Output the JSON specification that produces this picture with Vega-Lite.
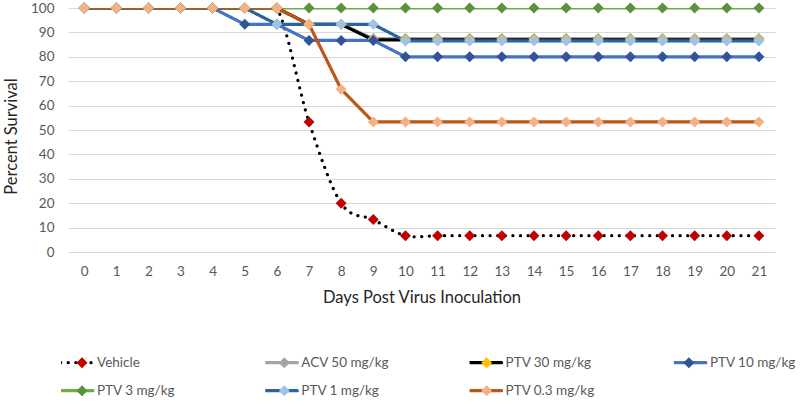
{
  "$schema": "https://vega.github.io/schema/vega-lite/v6.json",
  "autosize": {"type": "none"},
  "width": 707,
  "height": 244,
  "padding": {"left": 68, "top": 8, "right": 25, "bottom": 155},
  "background": "white",
  "config": {
    "view": {"stroke": null},
    "font": "Lato",
    "axis": {"labelFont": "Lato", "titleFont": "Lato", "labelColor": "#595959", "titleColor": "#262626", "titleFontWeight": "normal", "labelFontSize": 13.5, "titleFontSize": 16.5}
  },
  "data": {"values": [
    {"series":"Vehicle","day":0,"pct":100},{"series":"Vehicle","day":1,"pct":100},{"series":"Vehicle","day":2,"pct":100},{"series":"Vehicle","day":3,"pct":100},{"series":"Vehicle","day":4,"pct":100},{"series":"Vehicle","day":5,"pct":100},{"series":"Vehicle","day":6,"pct":100},{"series":"Vehicle","day":7,"pct":53.3},{"series":"Vehicle","day":8,"pct":20},{"series":"Vehicle","day":9,"pct":13.3},{"series":"Vehicle","day":10,"pct":6.7},{"series":"Vehicle","day":11,"pct":6.7},{"series":"Vehicle","day":12,"pct":6.7},{"series":"Vehicle","day":13,"pct":6.7},{"series":"Vehicle","day":14,"pct":6.7},{"series":"Vehicle","day":15,"pct":6.7},{"series":"Vehicle","day":16,"pct":6.7},{"series":"Vehicle","day":17,"pct":6.7},{"series":"Vehicle","day":18,"pct":6.7},{"series":"Vehicle","day":19,"pct":6.7},{"series":"Vehicle","day":20,"pct":6.7},{"series":"Vehicle","day":21,"pct":6.7},
    {"series":"ACV 50 mg/kg","day":0,"pct":100},{"series":"ACV 50 mg/kg","day":1,"pct":100},{"series":"ACV 50 mg/kg","day":2,"pct":100},{"series":"ACV 50 mg/kg","day":3,"pct":100},{"series":"ACV 50 mg/kg","day":4,"pct":100},{"series":"ACV 50 mg/kg","day":5,"pct":100},{"series":"ACV 50 mg/kg","day":6,"pct":100},{"series":"ACV 50 mg/kg","day":7,"pct":93.3},{"series":"ACV 50 mg/kg","day":8,"pct":93.3},{"series":"ACV 50 mg/kg","day":9,"pct":87.5},{"series":"ACV 50 mg/kg","day":10,"pct":87.5},{"series":"ACV 50 mg/kg","day":11,"pct":87.5},{"series":"ACV 50 mg/kg","day":12,"pct":87.5},{"series":"ACV 50 mg/kg","day":13,"pct":87.5},{"series":"ACV 50 mg/kg","day":14,"pct":87.5},{"series":"ACV 50 mg/kg","day":15,"pct":87.5},{"series":"ACV 50 mg/kg","day":16,"pct":87.5},{"series":"ACV 50 mg/kg","day":17,"pct":87.5},{"series":"ACV 50 mg/kg","day":18,"pct":87.5},{"series":"ACV 50 mg/kg","day":19,"pct":87.5},{"series":"ACV 50 mg/kg","day":20,"pct":87.5},{"series":"ACV 50 mg/kg","day":21,"pct":87.5},
    {"series":"PTV 30 mg/kg","day":0,"pct":100},{"series":"PTV 30 mg/kg","day":1,"pct":100},{"series":"PTV 30 mg/kg","day":2,"pct":100},{"series":"PTV 30 mg/kg","day":3,"pct":100},{"series":"PTV 30 mg/kg","day":4,"pct":100},{"series":"PTV 30 mg/kg","day":5,"pct":100},{"series":"PTV 30 mg/kg","day":6,"pct":100},{"series":"PTV 30 mg/kg","day":7,"pct":93.3},{"series":"PTV 30 mg/kg","day":8,"pct":93.3},{"series":"PTV 30 mg/kg","day":9,"pct":86.9},{"series":"PTV 30 mg/kg","day":10,"pct":86.9},{"series":"PTV 30 mg/kg","day":11,"pct":86.9},{"series":"PTV 30 mg/kg","day":12,"pct":86.9},{"series":"PTV 30 mg/kg","day":13,"pct":86.9},{"series":"PTV 30 mg/kg","day":14,"pct":86.9},{"series":"PTV 30 mg/kg","day":15,"pct":86.9},{"series":"PTV 30 mg/kg","day":16,"pct":86.9},{"series":"PTV 30 mg/kg","day":17,"pct":86.9},{"series":"PTV 30 mg/kg","day":18,"pct":86.9},{"series":"PTV 30 mg/kg","day":19,"pct":86.9},{"series":"PTV 30 mg/kg","day":20,"pct":86.9},{"series":"PTV 30 mg/kg","day":21,"pct":86.9},
    {"series":"PTV 10 mg/kg","day":0,"pct":100},{"series":"PTV 10 mg/kg","day":1,"pct":100},{"series":"PTV 10 mg/kg","day":2,"pct":100},{"series":"PTV 10 mg/kg","day":3,"pct":100},{"series":"PTV 10 mg/kg","day":4,"pct":100},{"series":"PTV 10 mg/kg","day":5,"pct":93.3},{"series":"PTV 10 mg/kg","day":6,"pct":93.3},{"series":"PTV 10 mg/kg","day":7,"pct":86.7},{"series":"PTV 10 mg/kg","day":8,"pct":86.7},{"series":"PTV 10 mg/kg","day":9,"pct":86.7},{"series":"PTV 10 mg/kg","day":10,"pct":80},{"series":"PTV 10 mg/kg","day":11,"pct":80},{"series":"PTV 10 mg/kg","day":12,"pct":80},{"series":"PTV 10 mg/kg","day":13,"pct":80},{"series":"PTV 10 mg/kg","day":14,"pct":80},{"series":"PTV 10 mg/kg","day":15,"pct":80},{"series":"PTV 10 mg/kg","day":16,"pct":80},{"series":"PTV 10 mg/kg","day":17,"pct":80},{"series":"PTV 10 mg/kg","day":18,"pct":80},{"series":"PTV 10 mg/kg","day":19,"pct":80},{"series":"PTV 10 mg/kg","day":20,"pct":80},{"series":"PTV 10 mg/kg","day":21,"pct":80},
    {"series":"PTV 3 mg/kg","day":0,"pct":100},{"series":"PTV 3 mg/kg","day":1,"pct":100},{"series":"PTV 3 mg/kg","day":2,"pct":100},{"series":"PTV 3 mg/kg","day":3,"pct":100},{"series":"PTV 3 mg/kg","day":4,"pct":100},{"series":"PTV 3 mg/kg","day":5,"pct":100},{"series":"PTV 3 mg/kg","day":6,"pct":100},{"series":"PTV 3 mg/kg","day":7,"pct":100},{"series":"PTV 3 mg/kg","day":8,"pct":100},{"series":"PTV 3 mg/kg","day":9,"pct":100},{"series":"PTV 3 mg/kg","day":10,"pct":100},{"series":"PTV 3 mg/kg","day":11,"pct":100},{"series":"PTV 3 mg/kg","day":12,"pct":100},{"series":"PTV 3 mg/kg","day":13,"pct":100},{"series":"PTV 3 mg/kg","day":14,"pct":100},{"series":"PTV 3 mg/kg","day":15,"pct":100},{"series":"PTV 3 mg/kg","day":16,"pct":100},{"series":"PTV 3 mg/kg","day":17,"pct":100},{"series":"PTV 3 mg/kg","day":18,"pct":100},{"series":"PTV 3 mg/kg","day":19,"pct":100},{"series":"PTV 3 mg/kg","day":20,"pct":100},{"series":"PTV 3 mg/kg","day":21,"pct":100},
    {"series":"PTV 1 mg/kg","day":0,"pct":100},{"series":"PTV 1 mg/kg","day":1,"pct":100},{"series":"PTV 1 mg/kg","day":2,"pct":100},{"series":"PTV 1 mg/kg","day":3,"pct":100},{"series":"PTV 1 mg/kg","day":4,"pct":100},{"series":"PTV 1 mg/kg","day":5,"pct":100},{"series":"PTV 1 mg/kg","day":6,"pct":93.3},{"series":"PTV 1 mg/kg","day":7,"pct":93.3},{"series":"PTV 1 mg/kg","day":8,"pct":93.3},{"series":"PTV 1 mg/kg","day":9,"pct":93.3},{"series":"PTV 1 mg/kg","day":10,"pct":86.5},{"series":"PTV 1 mg/kg","day":11,"pct":86.5},{"series":"PTV 1 mg/kg","day":12,"pct":86.5},{"series":"PTV 1 mg/kg","day":13,"pct":86.5},{"series":"PTV 1 mg/kg","day":14,"pct":86.5},{"series":"PTV 1 mg/kg","day":15,"pct":86.5},{"series":"PTV 1 mg/kg","day":16,"pct":86.5},{"series":"PTV 1 mg/kg","day":17,"pct":86.5},{"series":"PTV 1 mg/kg","day":18,"pct":86.5},{"series":"PTV 1 mg/kg","day":19,"pct":86.5},{"series":"PTV 1 mg/kg","day":20,"pct":86.5},{"series":"PTV 1 mg/kg","day":21,"pct":86.5},
    {"series":"PTV 0.3 mg/kg","day":0,"pct":100},{"series":"PTV 0.3 mg/kg","day":1,"pct":100},{"series":"PTV 0.3 mg/kg","day":2,"pct":100},{"series":"PTV 0.3 mg/kg","day":3,"pct":100},{"series":"PTV 0.3 mg/kg","day":4,"pct":100},{"series":"PTV 0.3 mg/kg","day":5,"pct":100},{"series":"PTV 0.3 mg/kg","day":6,"pct":100},{"series":"PTV 0.3 mg/kg","day":7,"pct":93.3},{"series":"PTV 0.3 mg/kg","day":8,"pct":66.7},{"series":"PTV 0.3 mg/kg","day":9,"pct":53.3},{"series":"PTV 0.3 mg/kg","day":10,"pct":53.3},{"series":"PTV 0.3 mg/kg","day":11,"pct":53.3},{"series":"PTV 0.3 mg/kg","day":12,"pct":53.3},{"series":"PTV 0.3 mg/kg","day":13,"pct":53.3},{"series":"PTV 0.3 mg/kg","day":14,"pct":53.3},{"series":"PTV 0.3 mg/kg","day":15,"pct":53.3},{"series":"PTV 0.3 mg/kg","day":16,"pct":53.3},{"series":"PTV 0.3 mg/kg","day":17,"pct":53.3},{"series":"PTV 0.3 mg/kg","day":18,"pct":53.3},{"series":"PTV 0.3 mg/kg","day":19,"pct":53.3},{"series":"PTV 0.3 mg/kg","day":20,"pct":53.3},{"series":"PTV 0.3 mg/kg","day":21,"pct":53.3}
  ]},
  "encoding": {
    "x": {"field": "day", "type": "ordinal", "scale": {"type": "point", "padding": 0.5},
      "axis": {"title": "Days Post Virus Inoculation", "labelAngle": 0, "domain": false, "ticks": false, "grid": false, "labelPadding": 12, "titleY": 45, "titleBaseline": "middle"}},
    "y": {"field": "pct", "type": "quantitative", "scale": {"domain": [0, 100], "nice": false, "zero": true},
      "axis": {"title": "Percent Survival", "values": [0,10,20,30,40,50,60,70,80,90,100], "domain": false, "ticks": false, "grid": true, "gridColor": "#D9D9D9", "gridWidth": 1, "labelPadding": 14, "titleX": -57, "titleY": 128, "titleAngle": -90, "titleAlign": "center", "titleBaseline": "middle"}}
  },
  "layer": [
    {
      "transform": [{"filter": "datum.series === 'Vehicle'"}],
      "mark": {"type": "line", "interpolate": "cardinal", "strokeWidth": 3.2, "strokeCap": "round", "clip": true},
      "encoding": {
        "stroke": {"field": "series", "type": "nominal",
          "scale": {"domain": ["Vehicle","ACV 50 mg/kg","PTV 30 mg/kg","PTV 10 mg/kg","PTV 3 mg/kg","PTV 1 mg/kg","PTV 0.3 mg/kg"],
                    "range": ["#000000","#A5A5A5","#000000","#4472C4","#70AD47","#2A64A0","#BA5618"]},
          "legend": {"title": null, "orient": "none", "legendX": -7, "legendY": 344.7, "direction": "horizontal", "columns": 4, "gridAlign": "all", "columnPadding": 78.3, "rowPadding": 8, "clipHeight": 20, "padding": 0,
                     "symbolType": "M-2,0L2,0", "symbolSize": 400, "symbolStrokeWidth": 3.2, "labelOffset": 12, "labelFont": "Lato", "labelFontSize": 13.5, "labelColor": "#595959", "labelLimit": 200,
                     "encode": {"symbols": {"update": {"strokeCap": {"value": "round"}}}}}},
        "strokeDash": {"field": "series", "type": "nominal",
          "scale": {"domain": ["Vehicle","ACV 50 mg/kg","PTV 30 mg/kg","PTV 10 mg/kg","PTV 3 mg/kg","PTV 1 mg/kg","PTV 0.3 mg/kg"],
                    "range": [[0.1,7.5],[1,0],[1,0],[1,0],[1,0],[1,0],[1,0]]},
          "legend": {"title": null, "orient": "none", "legendX": -7, "legendY": 344.7, "direction": "horizontal", "columns": 4, "gridAlign": "all", "columnPadding": 78.3, "rowPadding": 8, "clipHeight": 20, "padding": 0,
                     "symbolType": "M-2,0L2,0", "symbolSize": 400, "symbolStrokeWidth": 3.2, "labelOffset": 12, "labelFont": "Lato", "labelFontSize": 13.5, "labelColor": "#595959", "labelLimit": 200}}
      }
    },
    {
      "transform": [{"filter": "datum.series !== 'Vehicle'"}],
      "mark": {"type": "line", "strokeWidth": 3.2, "clip": true},
      "encoding": {
        "stroke": {"field": "series", "type": "nominal"},
        "strokeDash": {"field": "series", "type": "nominal"}
      }
    },
    {
      "mark": {"type": "point", "shape": "diamond", "filled": true, "size": 120, "opacity": 1},
      "encoding": {
        "fill": {"field": "series", "type": "nominal", "sort": null,
          "scale": {"range": ["#C00000","#A5A5A5","#FFC000","#2F5597","#5A9240","#9DC3E6","#F4B183"]},
          "legend": {"title": null, "orient": "none", "legendX": 2, "legendY": 344.7, "direction": "horizontal", "columns": 4, "gridAlign": "all", "columnPadding": 176.3, "rowPadding": 8, "clipHeight": 20, "padding": 0,
                     "symbolType": "M0,-0.55L0.55,0L0,0.55L-0.55,0ZM-2,0L2,0", "symbolSize": 400, "symbolStrokeWidth": 3.2, "symbolStrokeColor": "transparent", "labelOffset": 2, "labelExpr": "''", "labelFontSize": 13.5, "labelLimit": 200,
                     "encode": {"symbols": {"update": {"strokeWidth": {"value": 3.2}, "stroke": {"value": "transparent"}, "size": {"value": 400}, "shape": {"value": "M0,-0.55L0.55,0L0,0.55L-0.55,0ZM-2,0L2,0"}}}}}}
      }
    }
  ]
}
